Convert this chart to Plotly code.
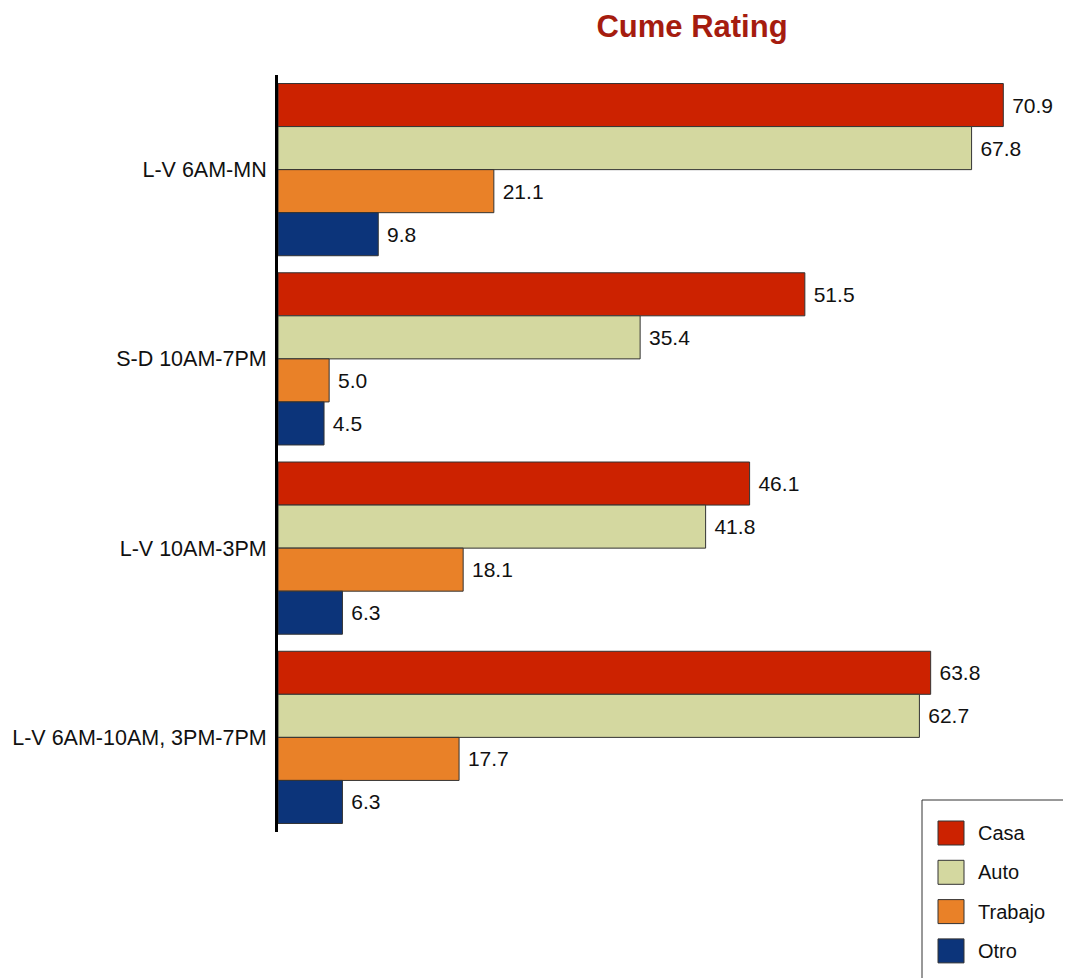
import plotly.graph_objects as go

categories = ["L-V 6AM-MN", "S-D 10AM-7PM", "L-V 10AM-3PM", "L-V 6AM-10AM, 3PM-7PM"]
series_names = ["Casa", "Auto", "Trabajo", "Otro"]
casa = [70.9, 51.5, 46.1, 63.8]
auto = [67.8, 35.4, 41.8, 62.7]
trabajo = [21.1, 5.0, 18.1, 17.7]
otro = [9.8, 4.5, 6.3, 6.3]
series_values = [casa, auto, trabajo, otro]
colors = ["#CC2200", "#D4D8A0", "#E98128", "#0C347A"]

FONT = "Liberation Sans, Arial, sans-serif"

# page body has an 8px margin; work in window pixels and convert
OFF = 8
W, H = 1071 - OFF, 978 - OFF
ML = 278 - OFF
MT = 75 - OFF
MB = H - (832 - OFF)
MR = 0
PW = W - ML - MR
PH = H - MT - MB

fig = go.Figure()
for name, vals, col in zip(series_names, series_values, colors):
    fig.add_trace(go.Bar(
        y=categories, x=vals, name=name, orientation="h",
        marker=dict(color=col, line=dict(color="#333333", width=1)),
        texttemplate="\u00a0%{x:.1f}", textposition="outside",
        textfont=dict(family=FONT, size=21, color="#111111"),
        constraintext="none", cliponaxis=False, showlegend=False,
        hoverinfo="x+name",
    ))

# custom legend (layout decoration), positions given in window pixels
def px2x(px):
    return (px - OFF - ML) / PW

def py2y(py):
    return (H - MB - (py - OFF)) / PH

shapes = [dict(type="rect", xref="paper", yref="paper",
               x0=px2x(922), x1=px2x(1085), y0=py2y(800), y1=py2y(995),
               line=dict(color="#333333", width=1), fillcolor="white", layer="above")]
annotations = []
for i, (name, col) in enumerate(zip(series_names, colors)):
    cy = 833 + i * 39.3
    shapes.append(dict(type="rect", xref="paper", yref="paper",
                       x0=px2x(938), x1=px2x(964), y0=py2y(cy + 12), y1=py2y(cy - 12),
                       line=dict(color="#333333", width=1), fillcolor=col, layer="above"))
    annotations.append(dict(xref="paper", yref="paper", x=px2x(976), y=py2y(cy),
                            text=name, showarrow=False, xanchor="left", yanchor="middle",
                            font=dict(family=FONT, size=20, color="#111111")))

fig.update_layout(
    width=W, height=H,
    margin=dict(l=ML, r=MR, t=MT, b=MB, pad=0),
    paper_bgcolor="white", plot_bgcolor="white",
    barmode="group", bargap=0.09, bargroupgap=0,
    title=dict(text="<b>Cume Rating</b>", x=(692 - OFF) / W, xanchor="center",
               y=1 - 18 / H, yanchor="middle",
               font=dict(family=FONT, size=31, color="#A51C0F")),
    xaxis=dict(range=[0, PW / 10.23], visible=False, fixedrange=True, automargin=False),
    yaxis=dict(type="category", autorange="reversed", showline=True, linecolor="#000000",
               linewidth=3, ticks="", showgrid=False, zeroline=False, automargin=False,
               tickfont=dict(family=FONT, size=21.5, color="#111111"), ticklabelstandoff=4),
    shapes=shapes, annotations=annotations,
)

fig.write_html("out.html")
